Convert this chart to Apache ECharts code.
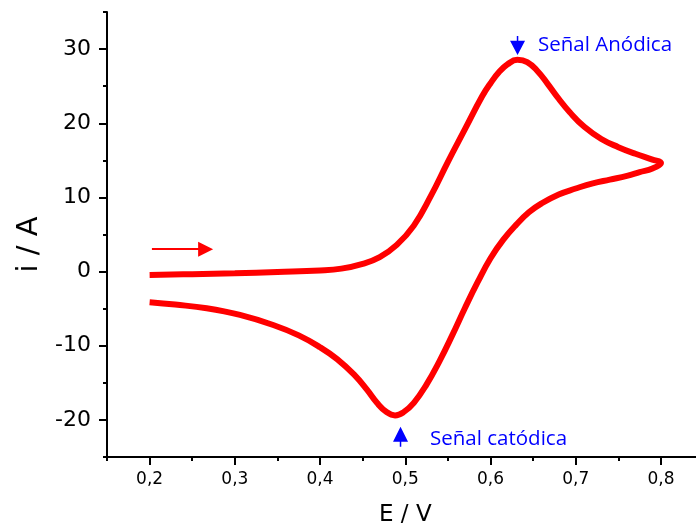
<!DOCTYPE html>
<html>
<head>
<meta charset="utf-8">
<script src="https://cdn.jsdelivr.net/npm/echarts@6.0.0/dist/echarts.min.js"></script>
<style>
html,body{margin:0;padding:0;background:#fff;}
#chart{width:696px;height:523px;}
</style>
</head>
<body>
<div id="chart"></div>
<script>
// Forward (anodic) scan
var forwardE = [0.200, 0.250, 0.300, 0.350, 0.400, 0.425, 0.450, 0.470, 0.490, 0.510, 0.530, 0.550, 0.570, 0.590, 0.600, 0.610, 0.620, 0.6315, 0.643, 0.655, 0.667, 0.680, 0.693, 0.710, 0.730, 0.750, 0.770, 0.790, 0.800];
var forwardI = [-0.45, -0.35, -0.22, -0.05, 0.15, 0.40, 1.05, 1.95, 3.6, 6.2, 10.2, 14.8, 19.2, 23.6, 25.4, 26.9, 27.95, 28.55, 28.25, 27.05, 25.31, 23.3, 21.48, 19.52, 17.88, 16.78, 15.88, 15.1, 14.66];
// Reverse (cathodic) scan
var reverseE = [0.790, 0.775, 0.760, 0.740, 0.720, 0.700, 0.680, 0.660, 0.645, 0.630, 0.615, 0.600, 0.585, 0.570, 0.555, 0.540, 0.525, 0.510, 0.498, 0.488, 0.478, 0.467, 0.455, 0.440, 0.420, 0.400, 0.375, 0.345, 0.306, 0.267, 0.230, 0.200];
var reverseI = [13.9, 13.4, 12.9, 12.4, 11.9, 11.2, 10.4, 9.2, 8.0, 6.3, 4.3, 1.8, -1.4, -4.9, -8.6, -12.1, -15.2, -17.7, -18.95, -19.39, -18.94, -17.73, -15.93, -13.9, -11.8, -10.2, -8.6, -7.2, -5.84, -4.94, -4.45, -4.13];

var xTicks = [0.2, 0.3, 0.4, 0.5, 0.6, 0.7, 0.8];
var xMinorTicks = [0.15, 0.25, 0.35, 0.45, 0.55, 0.65, 0.75, 0.85];
var yTicks = [-20, -10, 0, 10, 20, 30];
var yMinorTicks = [-25, -15, -5, 5, 15, 25, 35];

var anodicPeak = {name: 'Señal Anódica', E: 0.6317, i: 30.5};
var cathodicPeak = {name: 'Señal catódica', E: 0.4944, i: -22.28};
var scanArrow = {E0: 0.2027, E1: 0.2657, i: 3.02};

var curve = [];
for (var k = 0; k < forwardE.length; k++) curve.push([forwardE[k], forwardI[k]]);
for (var k = 0; k < reverseE.length; k++) curve.push([reverseE[k], reverseI[k]]);

var chart = echarts.init(document.getElementById('chart'), null, {renderer: 'canvas'});
var tickFont = 'DejaVu Sans';
chart.setOption({
  animation: false,
  backgroundColor: '#fff',
  grid: {left: 107, right: -7.6, top: 12, bottom: 66, containLabel: false, outerBoundsMode: 'none'},
  xAxis: [{
    type: 'value', min: 0.15, max: 0.85, position: 'bottom',
    name: 'E / V', nameLocation: 'middle', nameGap: 47,
    nameTextStyle: {fontFamily: tickFont, fontSize: 23, color: '#000'},
    axisLine: {show: true, onZero: false, lineStyle: {color: '#000', width: 2}},
    axisTick: {show: true, length: 8, lineStyle: {color: '#000', width: 2}, customValues: xTicks},
    axisLabel: {fontFamily: tickFont, fontSize: 17, color: '#000', margin: 14, customValues: xTicks,
      formatter: function (v) { return v.toFixed(1).replace('.', ','); }},
    splitLine: {show: false}
  }, {
    type: 'value', min: 0.15, max: 0.85, position: 'bottom',
    axisLine: {show: false, onZero: false},
    axisTick: {show: true, length: 4, lineStyle: {color: '#000', width: 2}, customValues: xMinorTicks},
    axisLabel: {show: false},
    splitLine: {show: false}
  }],
  yAxis: [{
    type: 'value', min: -25, max: 35, position: 'left',
    name: 'i / A', nameLocation: 'middle', nameGap: 63, nameRotate: 90,
    nameTextStyle: {fontFamily: tickFont, fontSize: 29, color: '#000', padding: [0, 20, 0, 0]},
    axisLine: {show: true, onZero: false, lineStyle: {color: '#000', width: 2}},
    axisTick: {show: true, length: 8, lineStyle: {color: '#000', width: 2}, customValues: yTicks},
    axisLabel: {fontFamily: tickFont, fontSize: 22, color: '#000', margin: 16, customValues: yTicks},
    splitLine: {show: false}
  }, {
    type: 'value', min: -25, max: 35, position: 'left',
    axisLine: {show: false, onZero: false},
    axisTick: {show: true, length: 4, lineStyle: {color: '#000', width: 2}, customValues: yMinorTicks},
    axisLabel: {show: false},
    splitLine: {show: false}
  }],
  series: [{
    type: 'line',
    xAxisIndex: 0, yAxisIndex: 0,
    data: curve,
    showSymbol: false,
    smooth: 0.45,
    lineStyle: {color: '#ff0000', width: 6},
    itemStyle: {color: '#ff0000'},
    silent: true,
    clip: false,
    markPoint: {
      silent: true,
      data: [{
        coord: [anodicPeak.E, anodicPeak.i],
        symbol: 'path://M9,0L11,0L11,5L20,5L10,20L0,5L9,5Z',
        symbolSize: [15, 19], symbolKeepAspect: false,
        itemStyle: {color: '#0000ff'},
        label: {show: true, position: 'right', distance: 13, formatter: anodicPeak.name,
          color: '#0000ff', fontFamily: 'Open Sans', fontSize: 20.5}
      }, {
        coord: [cathodicPeak.E, cathodicPeak.i],
        symbol: 'path://M10,0L20,15L11,15L11,20L9,20L9,15L0,15Z',
        symbolSize: [15, 20], symbolKeepAspect: false,
        itemStyle: {color: '#0000ff'},
        label: {show: true, position: 'right', distance: 22, offset: [0, 2], formatter: cathodicPeak.name,
          color: '#0000ff', fontFamily: 'Open Sans', fontSize: 20.5}
      }]
    },
    markLine: {
      silent: true,
      symbol: ['none', 'triangle'],
      symbolSize: [15, 15],
      label: {show: false},
      lineStyle: {color: '#ff0000', width: 2, type: 'solid'},
      data: [[{coord: [scanArrow.E0, scanArrow.i]}, {coord: [scanArrow.E1, scanArrow.i]}]]
    }
  }]
});
</script>
</body>
</html>
